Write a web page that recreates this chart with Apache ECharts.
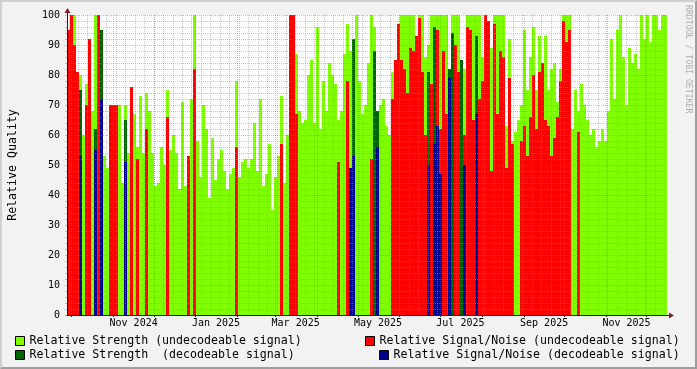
<!DOCTYPE html>
<html><head><meta charset="utf-8">
<script src="https://cdn.jsdelivr.net/npm/echarts@6/dist/echarts.min.js"></script>
<style>
html,body{margin:0;padding:0;background:#F2F2F2;}
#frame{position:absolute;left:0;top:0;width:697px;height:369px;box-sizing:border-box;border-style:solid;border-width:2px;border-color:#CFCFCF #9E9E9E #9E9E9E #CFCFCF;background:#F2F2F2;}
#chart{position:absolute;left:0;top:0;width:693px;height:365px;}
</style></head><body>
<div id="frame"><div id="chart"></div></div>
<script>
// ---------- data ----------
const seriesNames = [
  'Relative Strength (undecodeable signal)',
  'Relative Signal/Noise (undecodeable signal)',
  'Relative Strength  (decodeable signal)',
  'Relative Signal/Noise (decodeable signal)'
];
const tickLabels = ['Nov 2024','Jan 2025','Mar 2025','May 2025','Jul 2025','Sep 2025','Nov 2025'];
const xStart = Date.UTC(2024, 8, 27, 16);
const xEnd = Date.UTC(2025, 11, 16, 0);

const strengthUndec = [
  82,100,100,80,80,60,77,72,68,100,100,78,53,49,48,64,56,70,44,70,
  54,71,67,56,73,54,74,68,54,43,44,56,50,75,55,60,54,42,71,43,
  52,72,100,58,46,70,62,39,59,45,52,55,48,42,47,49,78,46,51,52,
  49,52,64,48,72,43,47,57,35,46,53,73,44,60,98,100,87,68,64,65,
  80,85,64,96,62,78,68,84,80,77,65,68,87,97,88,92,100,78,67,70,
  84,100,96,60,70,72,63,60,81,64,72,100,100,100,100,100,92,100,100,86,
  90,100,100,100,100,100,100,80,100,100,100,82,82,100,100,100,100,100,86,100,
  85,89,100,100,100,100,63,92,58,61,65,70,95,75,86,96,75,93,84,93,
  75,82,84,71,82,100,100,100,62,75,68,77,70,65,60,62,56,58,62,58,
  68,92,72,95,100,86,70,89,84,87,82,100,92,100,91,100,100,95,100,100
];
const snrUndec = [
  95,100,90,81,0,0,70,92,0,0,100,0,0,0,70,70,70,0,0,0,
  0,76,0,52,0,0,62,0,0,0,0,0,0,66,0,0,0,0,0,0,
  53,0,82,0,0,0,0,0,0,0,0,0,0,0,0,0,56,0,0,0,
  0,0,0,0,0,0,0,0,0,0,0,57,0,0,100,100,67,0,0,0,
  0,0,0,0,0,0,0,0,0,0,51,0,0,78,0,77,0,0,0,0,
  0,52,0,0,0,0,0,0,72,85,97,85,82,74,89,88,93,99,81,60,
  62,77,57,95,62,88,67,0,85,90,81,77,60,96,95,65,74,72,78,100,
  98,48,97,67,88,86,49,79,57,0,0,58,63,53,66,80,62,81,84,65,
  63,53,59,66,78,98,91,95,0,0,61,0,0,0,0,0,0,0,0,0,
  0,0,0,0,0,0,0,0,0,0,0,0,0,0,0,0,0,0,0,0
];
const strengthDec = [
  0,0,0,0,75,0,0,0,0,62,0,95,0,0,0,0,0,0,0,65,
  0,0,0,0,0,0,0,0,0,0,0,0,0,0,0,0,0,0,0,0,
  0,0,0,0,0,0,0,0,0,0,0,0,0,0,0,0,0,0,0,0,
  0,0,0,0,0,0,0,0,0,0,0,0,0,0,0,0,0,0,0,0,
  0,0,0,0,0,0,0,0,0,0,0,0,0,0,0,92,0,0,0,0,
  0,0,88,68,0,0,0,0,0,0,0,0,0,0,0,0,0,0,0,0,
  81,0,96,0,0,0,0,82,94,0,0,85,0,0,0,0,93,0,0,0,
  0,0,0,0,0,0,0,0,0,0,0,0,0,0,0,0,0,0,0,0,
  0,0,0,0,0,0,0,0,0,0,0,0,0,0,0,0,0,0,0,0,
  0,0,0,0,0,0,0,0,0,0,0,0,0,0,0,0,0,0,0,0
];
const snrDec = [
  0,0,0,0,53,0,0,0,0,55,0,72,0,0,0,0,0,0,0,51,
  0,0,0,0,0,0,0,0,0,0,0,0,0,0,0,0,0,0,0,0,
  0,0,0,0,0,0,0,0,0,0,0,0,0,0,0,0,0,0,0,0,
  0,0,0,0,0,0,0,0,0,0,0,0,0,0,0,0,0,0,0,0,
  0,0,0,0,0,0,0,0,0,0,0,0,0,0,49,53,0,0,0,0,
  0,0,0,56,0,0,0,0,0,0,0,0,0,0,0,0,0,0,0,0,
  50,0,57,63,47,0,0,79,0,0,0,0,50,0,0,0,67,0,0,0,
  0,0,0,0,0,0,0,0,0,0,0,0,0,0,0,0,0,0,0,0,
  0,0,0,0,0,0,0,0,0,0,0,0,0,0,0,0,0,0,0,0,
  0,0,0,0,0,0,0,0,0,0,0,0,0,0,0,0,0,0,0,0
];

// ---------- derived axis helpers ----------
const slotCount = strengthUndec.length;
const slotMs = (xEnd - xStart) / slotCount;
const categories = strengthUndec.map((_, i) => new Date(xStart + (i + 0.5) * slotMs).toISOString().slice(0, 10));
const monNames = ['Jan','Feb','Mar','Apr','May','Jun','Jul','Aug','Sep','Oct','Nov','Dec'];
const labelTimes = tickLabels.map(s => {
  const [m, y] = s.split(' ');
  return Date.UTC(+y, monNames.indexOf(m), 16);
});
const monthStarts = [];
for (let y = 2024; y <= 2025; y++) for (let m = 0; m < 12; m++) {
  const t = Date.UTC(y, m, 1);
  if (t > xStart && t < xEnd) monthStarts.push(t);
}
const weekStarts = [];
for (let t = Date.UTC(2024, 8, 29); t < xEnd; t += 7 * 86400000) if (t > xStart) weekStarts.push(t);

// ---------- chart ----------
const FONT = 'DejaVu Sans Mono';
const GL = 65, GT = 13, GW = 600, GH = 300;
const MAJ = 'rgba(222,79,79,0.45)';
const MIN = 'rgba(143,143,143,0.5)';
const AXIS = '#1F1F1F';
const ARROW = '#801F1F';
const colors = ['#7FFF00', '#FF0000', '#006400', '#000090'];
const seriesData = [strengthUndec, snrUndec, strengthDec, snrDec];

const legendCommon = {
  orient: 'horizontal', padding: 0, itemWidth: 9, itemHeight: 9, icon: 'rect',
  selectedMode: false, itemStyle: { borderColor: '#000', borderWidth: 1 },
  textStyle: { fontFamily: FONT, fontSize: 11.6, color: '#000' }
};

const chart = echarts.init(document.getElementById('chart'), null, { renderer: 'canvas' });
chart.setOption({
  animation: false,
  backgroundColor: '#F2F2F2',
  grid: { left: GL, top: GT, width: GW, height: GH, show: true, backgroundColor: '#FFFFFF', borderWidth: 0, outerBoundsMode: 'none' },
  legend: [
    Object.assign({ data: [seriesNames[0]], left: 13, top: 333 }, legendCommon),
    Object.assign({ data: [seriesNames[1]], left: 363, top: 333 }, legendCommon),
    Object.assign({ data: [seriesNames[2]], left: 13, top: 347 }, legendCommon),
    Object.assign({ data: [seriesNames[3]], left: 377, top: 347 }, legendCommon)
  ],
  xAxis: [
    { type: 'category', data: categories, show: false, boundaryGap: true },
    { type: 'value', min: xStart, max: xEnd, position: 'bottom', z: 5,
      axisLine: { show: true, lineStyle: { color: AXIS, width: 1 } },
      axisTick: { show: true, length: 2, customValues: monthStarts, lineStyle: { color: AXIS } },
      axisLabel: { show: true, customValues: labelTimes, margin: 3,
        formatter: v => { const i = labelTimes.indexOf(v); return i >= 0 ? tickLabels[i] : ''; },
        fontFamily: FONT, fontSize: 10, color: '#000' },
      splitLine: { show: true, lineStyle: { color: MAJ, type: [1, 1], width: 1 } } },
    { type: 'value', min: xStart, max: xEnd, position: 'bottom', z: 4,
      axisLine: { show: false }, axisTick: { show: false, customValues: weekStarts },
      axisLabel: { show: false },
      splitLine: { show: true, lineStyle: { color: MIN, type: [1, 1], width: 1 } } }
  ],
  yAxis: {
    type: 'value', min: 0, max: 100, interval: 10, z: 5,
    axisLine: { show: true, lineStyle: { color: AXIS } },
    axisTick: { show: true, length: 2, lineStyle: { color: MAJ } },
    minorTick: { show: true, splitNumber: 5, length: 2, lineStyle: { color: MIN } },
    axisLabel: { fontFamily: FONT, fontSize: 10, color: '#000', margin: 7 },
    splitLine: { show: true, lineStyle: { color: MAJ, type: [1, 1] } },
    minorSplitLine: { show: true, lineStyle: { color: MIN, type: [1, 1] } },
    name: 'Relative Quality', nameLocation: 'middle', nameGap: 48,
    nameTextStyle: { fontFamily: FONT, fontSize: 11.6, color: '#000' }
  },
  series: seriesData.map((d, k) => ({
    type: 'bar', name: seriesNames[k], xAxisIndex: 0, yAxisIndex: 0,
    data: d, barWidth: '100%', barGap: '-100%', silent: true, z: 2,
    itemStyle: { color: colors[k] }
  })),
  graphic: [
    { type: 'line', silent: true, z: 10, shape: { x1: GL + 0.5, y1: GT - 3, x2: GL + 0.5, y2: GT }, style: { stroke: AXIS, lineWidth: 1 } },
    { type: 'polygon', silent: true, z: 10, shape: { points: [[GL - 2.5, GT - 2], [GL + 3.5, GT - 2], [GL + 0.5, GT - 7]] }, style: { fill: ARROW } },
    { type: 'line', silent: true, z: 10, shape: { x1: GL + GW, y1: GT + GH + 0.5, x2: GL + GW + 3, y2: GT + GH + 0.5 }, style: { stroke: AXIS, lineWidth: 1 } },
    { type: 'polygon', silent: true, z: 10, shape: { points: [[GL + GW + 2, GT + GH - 2.5], [GL + GW + 2, GT + GH + 3.5], [GL + GW + 7, GT + GH + 0.5]] }, style: { fill: ARROW } },
    { type: 'text', silent: true, z: 10, x: 686, y: 3, rotation: -Math.PI / 2,
      style: { text: 'RRDTOOL / TOBI OETIKER', font: '8.2px "DejaVu Sans Mono"', fill: 'rgba(0,0,0,0.3)', align: 'left', verticalAlign: 'middle' } }
  ]
});
</script>
</body></html>
